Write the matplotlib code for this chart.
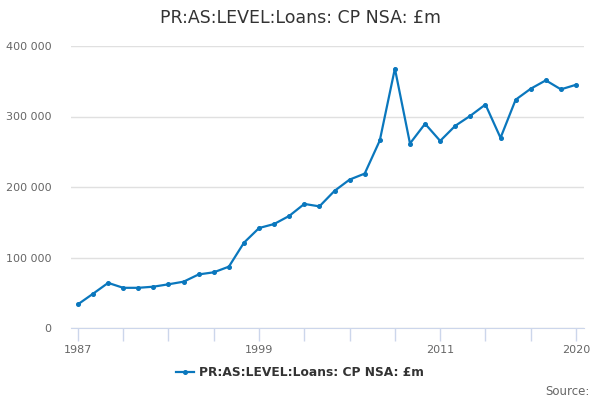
import matplotlib
matplotlib.use("Agg")
from matplotlib import pyplot as plt
from matplotlib.ticker import FuncFormatter

years = list(range(1987, 2021))
loans = [33600, 48600, 64000, 57000, 57000, 58600, 62000, 65700, 76000, 79000,
         87000, 121000, 141800, 147500, 159000, 176000, 172500, 194500, 210500, 219000,
         266000, 368000, 261700, 289700, 265400, 286800, 301000, 317000, 269700, 323800,
         339400, 351300, 338500, 345000]

tick_years = list(range(1987, 2021, 3))
label_years = [1987, 1999, 2011, 2020]
yticks = [0, 100000, 200000, 300000, 400000]

blue = "#0a77bd"

fig = plt.figure(figsize=(6, 4), dpi=100)
ax = fig.add_axes([71/600, 72/400, 513/600, 282/400])

ax.plot(years, loans, color=blue, lw=1.6, marker="o", ms=2.6,
        label="PR:AS:LEVEL:Loans: CP NSA: £m")

ax.set_xlim(1986.54, 2020.53)
ax.set_ylim(0, 400000)
ax.set_yticks(yticks)
ax.yaxis.set_major_formatter(FuncFormatter(lambda v, p: "0" if v == 0 else f"{int(v):,}".replace(",", " ")))
ax.grid(axis="y", color="#e0e0e0", lw=1)
ax.set_axisbelow(True)

ax.set_xticks(tick_years)
ax.set_xticklabels([str(y) if y in label_years else "" for y in tick_years])

for s in ["top", "right", "left"]:
    ax.spines[s].set_visible(False)
ax.spines["bottom"].set_color("#ccd6eb")
ax.tick_params(axis="x", colors="#ccd6eb", length=9, width=1, labelcolor="#666666", labelsize=8)
ax.tick_params(axis="y", length=0, labelcolor="#666666", labelsize=8, pad=14)

fig.text(0.5, 0.955, "PR:AS:LEVEL:Loans: CP NSA: £m", ha="center", va="center",
         fontsize=12.5, color="#333333")

leg = fig.legend(loc="center", bbox_to_anchor=(0.5, 0.068), frameon=False,
                 prop={"weight": "bold", "size": 8.8}, handlelength=1.5, handletextpad=0.4)
for t in leg.get_texts():
    t.set_color("#333333")

fig.text(0.983, 0.022, "Source:", ha="right", va="center", fontsize=8.5, color="#666666")

fig.savefig("out.png", dpi=100)
